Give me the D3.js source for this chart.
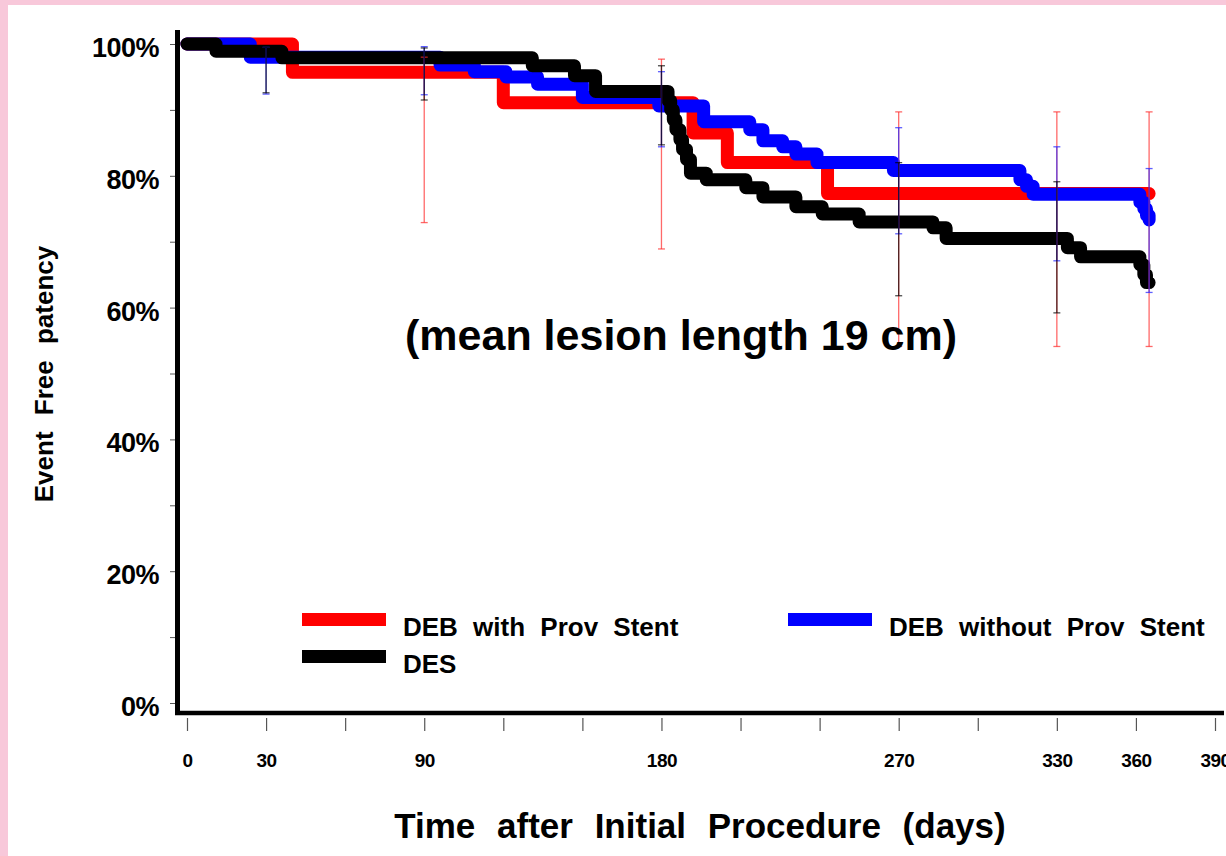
<!DOCTYPE html>
<html>
<head>
<meta charset="utf-8">
<script src="https://cdn.jsdelivr.net/npm/d3@7"></script>
<style>
  html, body { margin: 0; padding: 0; background: #fff; }
  svg { display: block; }
  text { font-family: "Liberation Sans", Arial, sans-serif; font-weight: bold; fill: #000; }
</style>
</head>
<body>
<svg id="chart" width="1226" height="856"></svg>
<script>
// ---------------- data ----------------
const seriesNames = ["DEB with Prov Stent", "DEB without Prov Stent", "DES"];

const redTimes = [0, 40, 120, 192, 205, 243, 365];
const redSurv  = [100, 95.7, 91.1, 86.5, 82.0, 77.3, 77.3];

const blueTimes = [0, 24, 96, 109, 121, 133, 150, 179, 196, 213.5, 218.5, 226, 231, 239, 268, 316, 318.5, 321, 361.5, 363, 364, 365];
const blueSurv  = [100, 98.0, 96.8, 95.8, 95.0, 93.9, 91.9, 90.6, 88.2, 87.0, 85.3, 84.4, 83.3, 82.0, 80.8, 79.4, 78.4, 77.2, 76.0, 75.0, 74.0, 73.3];

const desTimes = [0, 11, 36, 131, 147, 155, 182.5, 183.5, 184.5, 185.5, 187, 188, 189.5, 191, 197, 212, 218.5, 231, 241, 255, 283, 288, 334, 339, 361.5, 363, 364, 365];
const desSurv  = [100, 98.9, 97.9, 96.7, 95.2, 92.8, 91.4, 90.0, 88.5, 87.0, 85.5, 84.0, 82.5, 80.4, 79.4, 78.2, 76.8, 75.3, 74.2, 73.0, 72.1, 70.5, 69.1, 67.7, 66.5, 65.0, 63.8, 63.8];

// confidence intervals at selected days [lower, upper]
const ciDays   = [30, 90, 180, 270, 330, 365];
const redCI    = [null, [72.9, 98.0], [68.9, 97.7], [54.1, 89.7], [54.1, 89.7], [54.1, 89.7]];
const blueCI   = [[92.4, 99.5], [92.3, 99.6], [84.4, 95.8], [71.2, 87.3], [67.1, 84.4], [62.3, 81.1]];
const desCI    = [[92.6, 99.5], [91.5, 99.4], [84.7, 96.7], [61.8, 82.0], [59.2, 79.1], null];

const xTicks = [0, 30, 60, 90, 120, 150, 180, 210, 240, 270, 300, 330, 360, 390];
const xLabeled = [0, 30, 90, 180, 270, 330, 360, 390];
const yTicks = [0, 10, 20, 30, 40, 50, 60, 70, 80, 90, 100];
const yLabeled = [0, 20, 40, 60, 80, 100];

const colors = { red: "#ff0000", blue: "#0000ff", black: "#000000" };

// ---------------- drawing ----------------
const svg = d3.select("#chart");

svg.append("rect").attr("x", 0).attr("y", 0).attr("width", 1226).attr("height", 856).attr("fill", "#fff");
svg.append("rect").attr("x", 0).attr("y", 0).attr("width", 8).attr("height", 856).attr("fill", "#f8c8da");
svg.append("rect").attr("x", 0).attr("y", 0).attr("width", 1226).attr("height", 5).attr("fill", "#f8c8da");

const x = d3.scaleLinear().domain([0, 390]).range([187, 1215]);
const y = d3.scaleLinear().domain([0, 100]).range([703, 44]);

// Y axis ticks + labels
const yAxis = d3.axisLeft(y).tickValues(yTicks).tickSize(6).tickPadding(11)
  .tickFormat(d => yLabeled.includes(d) ? d + "%" : "");
const gy = svg.append("g").attr("transform", "translate(176,0)").call(yAxis);
gy.select(".domain").remove();
gy.selectAll(".tick line").attr("stroke", "#555").attr("stroke-width", 1);
gy.selectAll(".tick text").attr("dy", null).attr("y", 12.5)
  .style("font-size", "27px").style("letter-spacing", "-0.5px");

// X axis ticks + labels
const xAxis = d3.axisBottom(x).tickValues(xTicks).tickSize(13)
  .tickFormat(d => xLabeled.includes(d) ? d : "");
const gx = svg.append("g").attr("transform", "translate(0,718)").call(xAxis);
gx.select(".domain").remove();
gx.selectAll(".tick line").attr("stroke", "#555").attr("stroke-width", 1.2);
gx.selectAll(".tick text").attr("dy", null).attr("y", 49)
  .style("font-size", "19px").style("letter-spacing", "-0.5px");

// thick axis lines
svg.append("line").attr("x1", 177.5).attr("x2", 177.5).attr("y1", 30).attr("y2", 715)
  .attr("stroke", "#000").attr("stroke-width", 5);
svg.append("line").attr("x1", 175).attr("x2", 1224).attr("y1", 713).attr("y2", 713)
  .attr("stroke", "#000").attr("stroke-width", 4.5);

// curves
const line = d3.line().x(d => x(d[0])).y(d => y(d[1])).curve(d3.curveStepAfter);
function drawCurve(times, surv, color) {
  const pts = times.map((t, i) => [t, surv[i]]);
  svg.append("path").datum(pts).attr("d", line)
    .attr("fill", "none").attr("stroke", color).attr("stroke-width", 13)
    .attr("stroke-linejoin", "round").attr("stroke-linecap", "round");
}
drawCurve(redTimes, redSurv, colors.red);
drawCurve(blueTimes, blueSurv, colors.blue);
drawCurve(desTimes, desSurv, colors.black);

// error bars (drawn on top)
function drawCI(ci, color, op) {
  ci.forEach((c, i) => {
    if (!c) return;
    const cx = x(ciDays[i]);
    const g = svg.append("g").attr("stroke", color).attr("stroke-opacity", op).attr("stroke-width", 1.3);
    g.append("line").attr("x1", cx).attr("x2", cx).attr("y1", y(c[0])).attr("y2", y(c[1]));
    [c[0], c[1]].forEach(v => {
      g.append("line").attr("x1", cx - 3.5).attr("x2", cx + 3.5).attr("y1", y(v)).attr("y2", y(v));
    });
  });
}
drawCI(redCI, "#ff2a2a", 0.7);
drawCI(blueCI, "#2a2aff", 0.75);
drawCI(desCI, "#000", 0.7);

// legend
const legend = [
  { name: seriesNames[0], color: colors.red, lx: 302, ly: 619.5 },
  { name: seriesNames[1], color: colors.blue, lx: 788, ly: 619.5 },
  { name: seriesNames[2], color: colors.black, lx: 302, ly: 656.5 }
];
legend.forEach(l => {
  svg.append("rect").attr("x", l.lx).attr("y", l.ly - 6.5).attr("width", 84).attr("height", 13).attr("fill", l.color);
  svg.append("text").attr("x", l.lx + 101).attr("y", l.ly + 16)
    .style("font-size", "26px").style("word-spacing", "8px").text(l.name);
});

// annotation
svg.append("text").attr("x", 681).attr("y", 350).attr("text-anchor", "middle")
  .style("font-size", "43px").text("(mean lesion length 19 cm)");

// axis titles
svg.append("text").attr("x", 700).attr("y", 838).attr("text-anchor", "middle")
  .style("font-size", "35px").style("word-spacing", "12px").text("Time after Initial Procedure (days)");
svg.append("text").attr("transform", "translate(53,374) rotate(-90)").attr("text-anchor", "middle")
  .style("font-size", "26px").style("word-spacing", "9px").text("Event Free patency");
</script>
</body>
</html>
